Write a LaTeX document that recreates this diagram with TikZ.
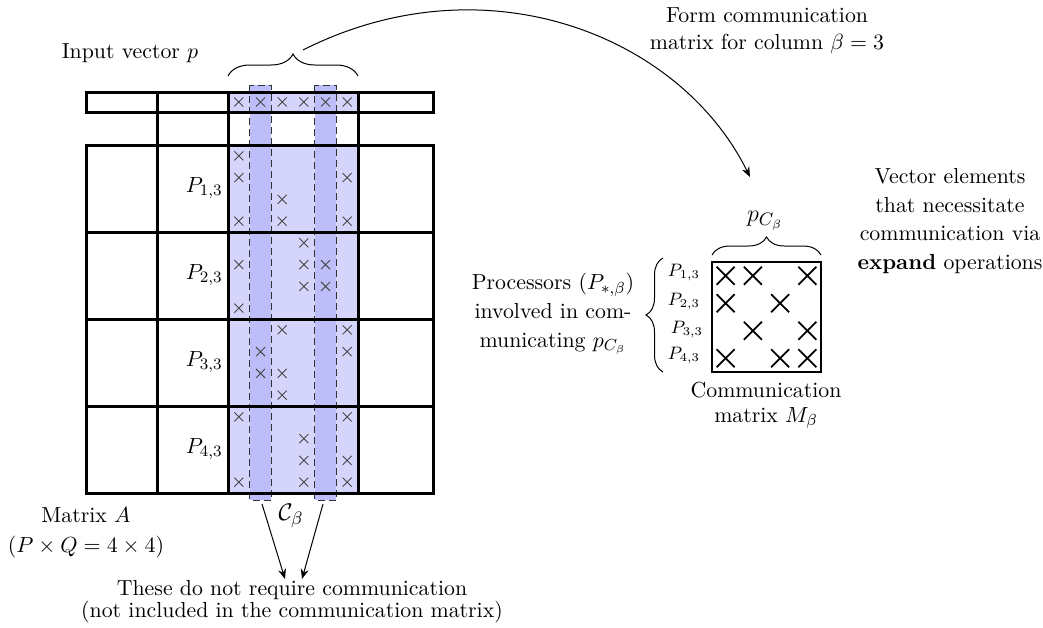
\documentclass[tikz,border=0pt]{standalone}
\usetikzlibrary{decorations.pathreplacing,arrows.meta}
\definecolor{lightcol}{RGB}{213,213,252}
\definecolor{darkcol}{RGB}{189,189,250}
\tikzset{
  gridline/.style={line width=1.5pt},
  lightfill/.style={fill=lightcol},
  darkfill/.style={fill=darkcol},
  stripe/.style={draw=black!80, dash pattern=on 3.5pt off 2pt, line width=0.5pt},
  smallcross/.style={draw=black!72, line width=0.45pt},
  bigcross/.style={draw=black, line width=0.9pt},
  arr/.style={-{Stealth[length=5pt,width=4pt]}, line width=0.5pt},
  br/.style={decorate, decoration={brace, amplitude=#1}, line width=0.5pt},
  txt/.style={inner sep=0pt, align=center, font=\fontsize{10.9}{#1}\selectfont},
  txt/.default=14.5,
  bigm/.style={inner sep=0pt, font=\fontsize{13}{15}\selectfont},
  plbl/.style={inner sep=0pt, font=\fontsize{10.9}{13}\selectfont},
  slbl/.style={inner sep=0pt, font=\fontsize{8.7}{10}\selectfont},
  xs/.pic={\draw[smallcross] (-4.5,-4.5) -- (4.5,4.5) (-4.5,4.5) -- (4.5,-4.5);},
  xb/.pic={\draw[bigcross] (-9,-9) -- (9,9) (-9,9) -- (9,-9);}
}
\begin{document}
\begin{tikzpicture}[x=0.5pt,y=-0.5pt]
\useasboundingbox (0,0) rectangle (1043,627);

% fills
\fill[lightfill] (228,92) rectangle (358,112);
\fill[lightfill] (228,145) rectangle (358,493);
\fill[darkfill] (249.67,85) rectangle (271.33,500);
\fill[darkfill] (314.67,85) rectangle (336.33,500);

% crosses in vector
\foreach \c in {1,...,6}
  \pic at ({228+21.667*(\c-0.5)},102) {xs};
% crosses in matrix
\foreach \c/\r in {1/1,1/2,6/2,3/3,1/4,3/4,6/4,
                   4/5,1/6,4/6,5/6,4/7,5/7,1/8,
                   3/9,6/9,2/10,6/10,2/11,3/11,3/12,
                   1/13,6/13,4/14,4/15,6/15,1/16,4/16,6/16}
  \pic at ({228+21.667*(\c-0.5)},{145+21.75*(\r-0.5)}) {xs};

% dashed stripes
\draw[stripe] (249.67,85) rectangle (271.33,500);
\draw[stripe] (314.67,85) rectangle (336.33,500);

% grid
\draw[gridline] (86,92) rectangle (433,112);
\draw[gridline] (86,145) rectangle (433,493);
\foreach \x in {157,228,358}
  \draw[gridline] (\x,92) -- (\x,493);
\foreach \y in {232,319,406}
  \draw[gridline] (86,\y) -- (433,\y);

% processor labels
\node[plbl, anchor=east] (pa) at (223,188) {$P_{1,3}$};
\node[plbl, anchor=east] (pb) at (223,275) {$P_{2,3}$};
\node[plbl, anchor=east] (pc) at (223,362) {$P_{3,3}$};
\node[plbl, anchor=east] (pd) at (223,449) {$P_{4,3}$};

% top brace and input vector label
\draw[br=11pt] (228,76) -- (358,76);
\coordinate (tbtip) at (303,50);
\node[txt] (inputp) at (130,53) {Input vector $p$};

% curved arrow to communication matrix
\coordinate (mtop) at (750,177);
\draw[arr] (tbtip) .. controls (485,-42) and (680,35) .. (mtop);
\node[txt=13.5] (formlbl) at (767,30.5) {Form communication\\matrix for column $\beta=3$};

% matrix A labels
\node[txt=15] (matA) at (86,533) {Matrix $A$\\$(P\times Q=4\times4)$};

% C_beta and arrows
\node[bigm] (cbeta) at (291,516) {$\mathcal{C}_\beta$};
\coordinate (s1) at (262,504);
\coordinate (s2) at (323,504);
\coordinate (e1) at (285,579);
\coordinate (e2) at (302,579);
\draw[arr] (s1) -- (e1);
\draw[arr] (s2) -- (e2);
\node[txt=11] (notreq) at (292,602) {These do not require communication\\(not included in the communication matrix)};

% communication matrix
\draw[line width=1.2pt] (712,262) rectangle (821,372);
\foreach \c/\r in {1/1,2/1,4/1,1/2,3/2,2/3,4/3,1/4,3/4,4/4}
  \pic at ({712+27.25*(\c-0.5)},{262+27.5*(\r-0.5)}) {xb};
\draw[br=9pt] (712,255) -- (821,255);
\node[bigm] (pcb) at (765,221) {$p_{C_\beta}$};
\node[txt=12.5] (commM) at (766,405.5) {Communication\\matrix $M_\beta$};

% side brace and labels
\draw[br=8.5pt] (663,372) -- (663,258);
\node[slbl] (sa) at (684,273) {$P_{1,3}$};
\node[slbl] (sb) at (684,302) {$P_{2,3}$};
\node[slbl] (sc) at (687,330) {$P_{3,3}$};
\node[slbl] (sd) at (684,356) {$P_{4,3}$};
\node[txt] (procs) at (553,314) {Processors $(P_{*,\beta})$\\involved in com-\\municating $p_{C_\beta}$};

% right text
\node[txt=14.3] (vecel) at (950,221) {Vector elements\\that necessitate\\communication via\\\textbf{expand} operations};
\end{tikzpicture}
\end{document}
